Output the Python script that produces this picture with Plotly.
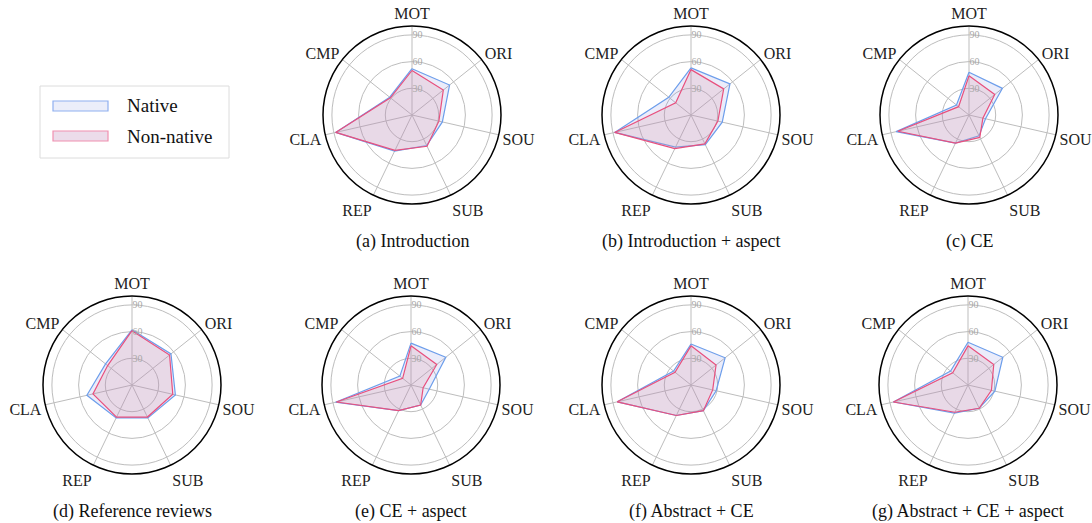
import plotly.graph_objects as go

categories = ["MOT", "ORI", "SOU", "SUB", "REP", "CLA", "CMP"]
titles = ["(a) Introduction", "(b) Introduction + aspect", "(c) CE",
          "(d) Reference reviews", "(e) CE + aspect", "(f) Abstract + CE",
          "(g) Abstract + CE + aspect"]
series_names = ["Native", "Non-native"]

native_a = [52, 54, 35, 38, 45, 88, 32]
nonnative_a = [50, 45, 31, 39, 44, 88, 31]
native_b = [53, 56, 36, 37, 40, 88, 32]
nonnative_b = [51, 47, 31, 36, 42, 88, 22]
native_c = [48, 48, 19, 26, 35, 84, 18]
nonnative_c = [44, 37, 16, 28, 35, 82, 15]
native_d = [62, 56, 50, 41, 41, 52, 38]
nonnative_d = [61, 54, 47, 40, 40, 45, 35]
native_e = [47, 50, 21, 25, 32, 87, 16]
nonnative_e = [44, 37, 14, 25, 32, 86, 12]
native_f = [46, 49, 29, 32, 38, 85, 25]
nonnative_f = [44, 36, 25, 32, 38, 85, 23]
native_g = [48, 50, 31, 29, 35, 86, 25]
nonnative_g = [44, 37, 27, 29, 34, 86, 22]

native_all = [native_a, native_b, native_c, native_d, native_e, native_f, native_g]
nonnative_all = [nonnative_a, nonnative_b, nonnative_c, nonnative_d,
                 nonnative_e, nonnative_f, nonnative_g]

radial_ticks = [30, 60, 90]

W, H = 1092, 523
R = 89
centers = [(412, 115), (691, 115), (969, 115),
           (132, 385), (411, 385), (691, 385), (968, 385)]

FONT = "Liberation Serif, Times New Roman, serif"
NATIVE_LINE = "#6d9eeb"
NATIVE_FILL = "rgba(120,130,220,0.15)"
NON_LINE = "#e8507e"
NON_FILL = "rgba(225,151,165,0.22)"
LEG_LINES = ["#8fb0f0", "#f090b0"]
LEG_FILLS = ["#ebeefa", "#ecdcea"]

fig = go.Figure()
layout_polars = {}
annotations = []
shapes = []
for i, (nat, non) in enumerate(zip(native_all, nonnative_all)):
    key = "polar" if i == 0 else f"polar{i+1}"
    th = categories + [categories[0]]
    fig.add_trace(go.Scatterpolar(
        r=nat + [nat[0]], theta=th, subplot=key, mode="lines",
        fill="toself", fillcolor=NATIVE_FILL,
        line=dict(color=NATIVE_LINE, width=1.2),
        name=series_names[0], showlegend=False, hoverinfo="skip"))
    fig.add_trace(go.Scatterpolar(
        r=non + [non[0]], theta=th, subplot=key, mode="lines",
        fill="toself", fillcolor=NON_FILL,
        line=dict(color=NON_LINE, width=1.2),
        name=series_names[1], showlegend=False, hoverinfo="skip"))
    cx, cy = centers[i]
    layout_polars[key] = dict(
        domain=dict(x=[(cx - R) / W, (cx + R) / W],
                    y=[(H - cy - R) / H, (H - cy + R) / H]),
        bgcolor="white",
        radialaxis=dict(range=[0, 100], tickvals=radial_ticks,
                        ticktext=[str(v) for v in radial_ticks],
                        showline=False, ticks="", angle=90, tickangle=90,
                        tickfont=dict(family=FONT, size=10, color="#a8a8a8"),
                        gridcolor="#bdbdbd", gridwidth=1),
        angularaxis=dict(direction="clockwise", rotation=90,
                         categoryorder="array", categoryarray=categories,
                         showline=True, linecolor="black", linewidth=1.5,
                         gridcolor="#bdbdbd", gridwidth=1, ticks="",
                         tickfont=dict(family=FONT, size=16, color="#222")),
    )
    annotations.append(dict(
        text=titles[i], x=cx / W, y=(H - cy - 126) / H, xref="paper",
        yref="paper", xanchor="center", yanchor="middle", showarrow=False,
        font=dict(family=FONT, size=18, color="#111")))

# legend box (drawn manually to mimic patch-style legend)
shapes.append(dict(type="rect", xref="paper", yref="paper",
                   x0=40 / W, x1=229 / W, y0=(H - 158) / H, y1=(H - 86) / H,
                   line=dict(color="#dcdcdc", width=1), fillcolor="white"))
leg_y = [106, 136]
for k, name in enumerate(series_names):
    yc = leg_y[k]
    shapes.append(dict(type="rect", xref="paper", yref="paper",
                       x0=53 / W, x1=108 / W,
                       y0=(H - yc - 5) / H, y1=(H - yc + 5) / H,
                       line=dict(color=LEG_LINES[k], width=1.2),
                       fillcolor=LEG_FILLS[k]))
    annotations.append(dict(
        text=name, x=125 / W, y=(H - yc) / H, xref="paper", yref="paper",
        xanchor="left", yanchor="middle", showarrow=False,
        font=dict(family=FONT, size=19, color="#111")))

fig.update_layout(
    width=W, height=H, margin=dict(l=0, r=0, t=0, b=0),
    paper_bgcolor="white", plot_bgcolor="white",
    font=dict(family=FONT, color="#111"),
    annotations=annotations, shapes=shapes,
    showlegend=False,
    **layout_polars,
)

fig.write_html("out.html", config={"displayModeBar": False},
               post_script="document.body.style.margin='0';document.body.style.padding='0';")
